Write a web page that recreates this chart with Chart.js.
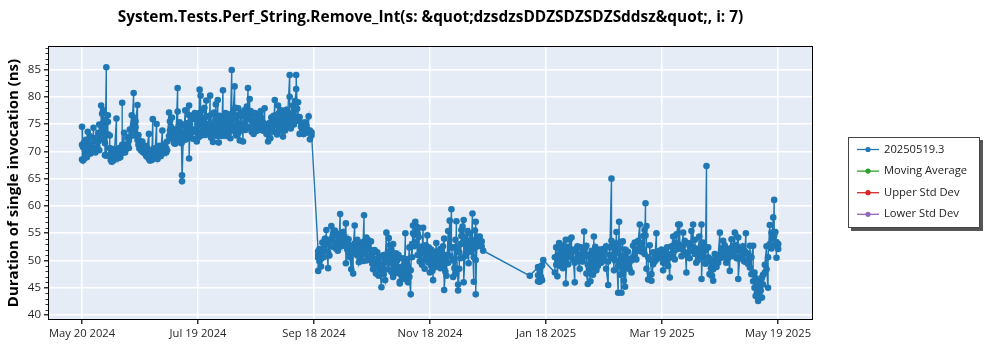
<!DOCTYPE html>
<html>
<head>
<meta charset="utf-8">
<script src="https://cdn.jsdelivr.net/npm/chart.js@4.4.1/dist/chart.umd.min.js"></script>
<style>
  body { margin: 0; background: #fff; }
  canvas { display: block; }
</style>
</head>
<body>
<canvas id="perfChart" width="1000" height="350"></canvas>
<script>
// benchmark name and run id
const chartTitle = 'System.Tests.Perf_String.Remove_Int(s: &quot;dzsdzsDDZSDZSDZSddsz&quot;, i: 7)';
const yTitle = 'Duration of single invocation (ns)';
const legendNames = ['20250519.3', 'Moving Average', 'Upper Std Dev', 'Lower Std Dev'];

// x ticks: days after May 20 2024
const tickDays = [0, 60.67, 121.33, 182, 242.67, 303.33, 364];
const tickLabels = ['May 20 2024', 'Jul 19 2024', 'Sep 18 2024', 'Nov 18 2024', 'Jan 18 2025', 'Mar 19 2025', 'May 19 2025'];
const yTicks = [40, 45, 50, 55, 60, 65, 70, 75, 80, 85];

// before the September drop (days since May 20 2024, ns per run on that day)
const phase1Days = [0,0.5,1,1.5,2,2.5,3,3.5,4,4.5,5,5.5,6,7,8,8.5,9,10,10.5,11,12,12.7,13.5,14.5,15,15.5,16,16.5,17,18,18.5,19,19.5,20,21,22,22.5,23,24,24.5,25,26,27,27.5,28,29,29.5,30,31,31.5,32,33,33.5,34,35,35.5,36,36.5,37,37.5,38,39,39.5,40,40.5,41,42,42.5,43,44,44.5,45.5,46,46.5,47,47.5,48,48.5,49,50,50.5,51,51.5,52,52.3,53,53.5,54,54.5,55,55.5,56,56.5,57,57.5,58,59,
  60,60.5,61,61.5,62,62.5,63,63.5,64,64.5,65,66,66.5,67,67.5,68,68.5,69,69.5,70,70.5,71,71.5,72,72.5,73,73.7,74,74.5,75,75.5,76,76.5,77,77.6,78.3,79,79.8,80.2,80.7,81.2,81.7,82.5,83,83.5,84.2,85,85.5,86.2,86.8,87.7,88.2,88.7,89.2,89.7,90.5,91,92,92.5,93,93.5,94,94.5,95.5,96,96.5,97.3,98,98.5,99,99.5,100.2,100.8,101.3,102,102.5,103,103.6,104.2,105.1,105.6,106.2,106.8,107.5,108.6,109.2,110.3,110.8,111.4,112,112.5,113,113.8,114.5,115.2,116,116.7,117.4,118.5,119.2,120];
const phase1Ns = [[74.5,71.2,68.5],[68.3,70.8],[71.6,68.6],[69.4,70.2],[72.1,69.0],[70.5,68.9],[73.6,69.8],[71.0,69.5],[70.3,72.8],[69.6,71.4],[70.8,69.9],[72.5,70.1],[74.3,70.5],[69.8,71.9,70.6],[70.9,72.6],[71.8,73.4],[70.2,74.9],[72.2,78.4,73.0],[76.9,74.1],[72.6,77.5,75.2],[71.5,75.8,69.3],[85.4,69.2],[76.6,75.4,73.1],[72.9,70.6],[68.4,69.6],[68.1,69.0],[69.8,68.5],[70.4,68.3],[69.0,70.2],[76.0,69.4],[68.7,70.1],[69.5,68.8],[70.6,69.3],[68.9,70.0],[71.2,78.9,69.7],[73.4,70.8],[69.8,71.0],[70.4,70.9],[71.4,72.5],[70.6,72.0],[72.7,74.0],[76.6,73.5],[80.7,74.8,72.9],[76.1,73.8],[74.4,75.5],[78.5,72.1],[73.0,71.2],[72.0,70.5],[71.3,70.1],[70.4,71.8],[69.8,70.6],[69.6,71.0],[70.3,69.2],[69.0,70.7],[73.2,68.6],[69.1,68.3],[68.5,69.6],[70.2,68.4],[75.9,69.0],[68.7,70.5],[69.4,68.8],[75.0,69.9],[70.8,68.6],[69.2,70.0],[71.0,69.5],[70.1,69.1],[73.8,70.4],[69.6,70.9],[70.3,71.2],[69.8,70.6],[71.8,70.2],[77.1,72.8],[75.5,73.8],[72.6,74.5],[76.2,73.0],[72.3,74.1],[71.6,72.8],[73.3,71.4],[72.4,71.5],[81.6,77.3,73.2],[74.6,72.5],[75.3,73.9],[72.4,74.0],[73.1,71.5],[65.6,64.5],[73.4,72.0],[72.6,74.8],[77.5,75.0],[73.6,72.2],[74.3,73.0],[73.4,75.2],[78.4,76.6,68.7],[74.9,72.8],[76.5,74.1],[73.8,75.9],[72.3,74.0],[73.6,77.0],
  [71.8,76.3],[73.2,75.4],[72.6,74.8],[81.3,77.0],[80.2,73.5],[75.6,72.9],[74.1,77.6],[73.2,76.0],[75.2,78.0],[73.0,74.5],[79.3,75.0,73.4],[74.2,76.4],[75.0,73.1],[80.2,74.6],[76.7,72.5],[73.4,74.0],[71.7,75.0],[74.4,77.1],[75.6,73.2],[78.6,74.2],[76.2,72.8],[79.4,75.0],[71.6,74.0],[76.5,73.6],[73.0,75.6],[74.8,72.8],[81.2,75.4],[76.2,73.5],[72.9,75.9],[77.0,74.2],[73.7,76.2],[75.1,72.8],[76.8,74.6],[73.5,75.5],[72.4,74.8],[84.9,75.9],[74.1,77.3],[81.9,76.4],[73.5,78.0],[74.9,72.9],[76.6,74.2],[73.3,77.9],[72.0,74.6],[76.5,73.8],[74.8,77.0],[71.8,74.0],[77.5,75.1],[73.9,76.3],[78.2,74.6],[81.6,75.9],[79.6,76.1],[74.3,77.4],[75.6,73.6],[74.0,76.8],[73.2,75.1],[74.4,77.0],[75.8,73.7],[74.5,76.2],[73.9,75.4],[76.6,74.8],[77.4,75.2],[74.1,76.0],[75.3,73.8],[77.9,74.6],[75.0,73.6],[74.4,73.2],[71.8,73.5],[72.6,75.2],[73.9,72.4],[76.2,74.5],[74.0,75.8],[76.5,73.6],[79.4,75.4],[74.8,76.6],[73.1,75.0],[78.4,76.2],[77.0,74.4],[75.2,73.8],[77.5,74.9],[72.7,75.8],[76.4,74.0],[73.8,76.9],[77.6,75.3],[74.6,76.2],[84.0,80.0,75.6],[76.9,74.2],[78.4,75.7],[77.5,74.9],[76.4,79.2],[81.4,84.0],[77.8,75.6],[79.0,76.3],[76.3,73.2],[74.5,75.3],[73.6,74.8],[75.1,73.2],[74.0,75.3],[73.4,74.7],[76.4,73.8],[73.8,72.2],[72.9,73.5]];

// autumn runs after the drop
const phase2Days = [123.5,124.2,125,125.7,126.4,127.1,127.8,128.7,129.4,130.4,131.2,132.2,133,133.8,134.3,135,135.7,136.5,137.2,138,138.7,139.4,140.1,140.8,141.8,142.6,143.3,144,144.8,145.5,146.2,147,147.5,148.2,148.7,149.5,150.3,151.1,151.8,152.2,153,153.7,154.4,155.1,155.8,156.6,157.2,157.8,158.5,159.2,160,160.4,161.1,161.8,162.7,163.4,164.1,164.8,165.5,166.2,166.9,167.5,168,168.6,169.1,169.8,170.5,171.2,171.9,172.6,173.1,173.7,174.3,174.9,175.5,176.1,176.6,177.2,177.8,178.4,179.2,179.8,180.6,181.3,181.9,182.6,183.2,183.6,184.3,185.3,186,186.7,187.4,188.1,188.8,189.4,190,190.6,191.5,192.3,193.2,194.1,194.8,195.3,195.8,196.7,197.3,197.9,198.4,199,199.6,200.3,201,201.6,202.2,202.8,203.5,204.2,204.9,205.5,205.9,206.5,207.1,208,209,209.8];
const phase2Ns = [[51.7,50.5,48.1,51.0],[49.8,52.1],[50.3,48.9],[51.6,53.3],[52.4,50.6],[54.0,51.8],[55.6,52.9],[48.6,51.5],[53.6,50.9],[56.3,54.0],[52.5,54.8],[55.5,53.2],[52.1,54.6],[53.4,51.8],[54.9,52.6],[58.5,53.5],[52.6,54.2],[55.2,53.0],[52.8,54.4],[56.8,49.5],[52.0,53.6],[51.4,53.9],[52.8,50.6],[48.4,51.6],[47.6,52.2],[56.4,53.1],[51.2,53.5],[53.8,50.9],[52.0,49.7],[50.8,53.1],[51.5,52.8],[49.9,53.4],[58.3,52.3],[53.6,51.1],[54.2,50.0],[52.7,53.8],[50.2,52.1],[53.5,50.8],[49.4,51.6],[48.4,50.3],[49.6,51.9],[47.6,50.2],[51.5,48.9],[47.2,49.8],[50.6,48.0],[45.1,48.6],[49.2,50.8],[51.0,47.5],[46.4,49.6],[55.1,50.4],[51.6,48.4],[54.1,50.1],[49.5,52.8],[52.0,47.9],[53.0,47.0],[50.6,48.5],[49.0,51.3],[47.7,50.0],[51.0,48.8],[46.1,45.8],[48.6,47.4],[50.4,46.8],[49.0,47.2],[46.6,48.3],[55.0,49.4],[50.2,47.6],[46.0,48.9],[52.4,47.0],[43.8,48.2],[53.0,50.6],[56.4,55.0],[52.6,54.7],[57.1,55.3],[56.2,53.4],[55.0,51.0],[56.0,54.3],[49.8,51.9],[52.5,50.0],[49.2,51.4],[56.0,52.0],[48.5,51.2],[52.8,50.1],[54.6,51.3],[49.6,52.4],[50.5,47.8],[52.0,49.0],[48.1,50.9],[46.4,49.5],[51.6,48.7],[53.2,50.2],[49.4,51.5],[51.0,49.5],[52.1,48.6],[50.0,51.8],[49.2,52.6],[54.0,44.6],[48.0,50.4],[51.0,47.2],[55.4,49.6],[57.3,50.8],[59.4,52.4],[50.0,47.0],[52.4,48.6],[53.8,47.6],[57.2,52.2],[45.6,44.5],[48.5,51.5],[53.0,50.4],[54.5,55.6],[53.2,56.2],[57.4,46.0],[50.8,54.3],[53.5,51.2],[55.4,52.6],[49.5,53.6],[52.0,55.0],[53.8,51.6],[58.6,53.0],[46.1,50.6],[55.5,52.4],[57.1,50.1,43.8],[53.2,54.4],[53.8,52.6],[54.4,53.1],[52.6,53.5],[51.8]];

// runs from January 2025 on
const phase3Days = [234.2,238.5,239.3,240,240.6,241.2,247.3,248,248.6,249.5,250.2,250.8,251.5,252.2,253,253.6,254.3,255.1,256,256.7,257.7,258.4,259.1,260.3,261,261.8,262.6,263.2,263.8,264.5,265.2,265.9,266.6,267.2,267.7,268.4,269,269.8,270.8,271.6,272.5,273.3,274.1,275.2,276,276.9,277.6,278.2,278.8,279.5,280.4,280.9,281.5,282.1,282.8,283.4,284,284.7,285.5,286.4,287.4,288.2,289.1,289.9,290.9,291.7,292.6,293.5,294.2,294.7,295.2,296.1,296.9,297.8,298.7,299.5,300.4,301.3,302.2,303.1,303.9,304.6,305.3,306,306.5,307.4,308.3,309.2,310,310.9,311.8,312.6,313.5,314.4,315.2,316.1,317,317.8,318.7,319.6,320.5,321.2,322,322.8,323.4,324,324.7,325.4,326,326.6,327.5,328.2,328.9,329.5,330.1,330.9,331.8,332.7,333.6,334.4,335.3,336.1,336.9,337.9,338.8,339.7,340.5,341.4,342.3,343.2,344,344.9,345.7,346.4,347.2,348.2,349.3,350.1,351,351.7,352.3,353,353.6,354.3,355,355.6,356.2,357.1,358,358.8,359.7,360.6,361.5,362,362.6,363.2,364.1];
const phase3Ns = [[47.2],[48.8,47.3,46.2],[46.1,48.2],[47.0,48.9],[49.1,46.4],[50.1],[47.8,50.6],[52.4,49.2],[50.5,47.1],[53.2,51.0],[49.0,51.8],[52.1,50.0],[48.6,52.8],[51.4,49.7],[53.8,45.8],[50.5,52.5],[49.3,51.6],[53.9,50.8],[54.2,51.2],[50.2,52.0],[46.0,49.6],[51.8,49.9],[52.6,50.4],[48.5,51.0],[50.6,52.4],[51.5,49.8],[55.3,51.6],[50.8,52.3],[52.7,47.6],[45.7,49.2],[51.1,48.0],[46.2,50.3],[48.7,51.8],[50.4,47.4],[54.4,51.2],[49.5,52.5],[50.9,48.2],[51.7,49.0],[50.2,52.0],[49.6,51.3],[52.1,50.6],[50.0,51.6],[52.6,48.5],[45.5,49.8],[52.4,51.0],[65.0,53.6],[50.4,52.6],[48.2,51.2],[53.1,50.0],[55.2,51.4],[44.1,49.0],[57.1,52.3],[47.4,53.4],[44.1,49.6],[53.5,48.2],[46.3,50.8],[52.0,45.2],[48.8,50.4],[51.6,49.2],[50.3,48.4],[47.8,50.0],[52.7,50.6],[53.3,51.0],[50.2,52.0],[51.8,53.6],[56.6,52.8],[53.2,51.6],[54.5,52.0],[55.6,51.2],[60.5,54.6],[56.3,48.5],[46.5,50.6],[50.2,52.8],[47.5,46.3],[49.3,51.5],[51.0,49.8],[55.0,50.2],[50.4,51.6],[51.8,50.6],[50.8,52.0],[49.6,48.2],[51.2,50.0],[51.8,49.4],[50.6,52.4],[49.0,51.2],[46.9,50.5],[52.6,51.0],[54.4,51.6],[53.3,50.2],[52.0,54.8],[56.6,53.0],[56.6,52.5],[52.1,50.8],[55.1,52.8],[51.4,53.6],[47.8,51.0],[51.5,53.2],[52.6,50.4],[55.4,51.8],[56.6,52.4],[51.2,53.8],[49.6,52.2],[51.5,50.0],[54.4,51.6],[52.0,50.8],[56.6,46.6],[53.3,51.2],[50.5,52.6],[51.8,49.4],[67.3,52.4],[52.4,50.6],[49.8,47.5],[48.6,50.2],[47.2,49.0],[46.3,48.4],[49.5,51.2],[50.4,48.8],[49.6,51.0],[55.1,50.4],[52.2,51.0],[53.6,50.6],[50.8,52.8],[52.1,49.6],[51.5,50.4],[48.1,52.2],[53.9,50.8],[51.3,52.6],[55.1,51.6],[50.4,52.8],[54.2,46.6],[50.6,52.0],[52.4,51.0],[50.2,52.6],[51.8,49.8],[55.0,51.5],[49.4,51.2],[48.7,52.7],[47.5,50.6],[52.7,46.2],[45.0,47.8],[43.5,46.8],[46.0,44.2],[42.6,45.8],[44.8,43.2],[46.4,44.5],[43.2,46.9],[47.4,45.6],[47.8,49.2],[52.6,48.4],[45.0,50.6],[56.5,53.0],[55.1,52.2],[57.9,54.0],[61.1,54.5],[52.8,55.2],[50.5,53.4],[53.0,52.1]];

const runColor = '#1f77b4';
const legendColors = ['#1f77b4', '#2ca02c', '#d62728', '#9467bd'];
const fontFamily = "'Open Sans', 'Noto Sans', sans-serif";

const points = [];
function addPhase(days, ns) {
  days.forEach(function(day, i) {
    ns[i].forEach(function(v) { points.push({ x: day, y: v }); });
  });
}
addPhase(phase1Days, phase1Ns);
addPhase(phase2Days, phase2Ns);
addPhase(phase3Days, phase3Ns);

Chart.defaults.font.family = fontFamily;

// plot background, frame, minor ticks, title and boxed legend
const decorations = {
  id: 'decorations',
  beforeDraw(chart) {
    const { ctx, chartArea: a } = chart;
    ctx.save();
    ctx.fillStyle = '#ffffff';
    ctx.fillRect(0, 0, chart.width, chart.height);
    ctx.fillStyle = '#e5ecf6';
    ctx.fillRect(a.left, a.top, a.right - a.left, a.bottom - a.top);
    ctx.restore();
  },
  afterDraw(chart) {
    const { ctx, chartArea: a } = chart;
    const y = chart.scales.y;
    ctx.save();
    ctx.strokeStyle = '#000';
    ctx.lineWidth = 1;
    ctx.strokeRect(a.left + 0.5, a.top + 0.5, a.right - a.left - 1, a.bottom - a.top - 1);

    // minor ticks every 1 ns
    ctx.strokeStyle = '#333';
    ctx.beginPath();
    for (let v = Math.ceil(y.min); v <= y.max; v++) {
      if (v % 5 === 0) continue;
      const py = Math.round(y.getPixelForValue(v)) + 0.5;
      ctx.moveTo(a.left - 2.5, py);
      ctx.lineTo(a.left, py);
    }
    ctx.stroke();

    // title
    ctx.fillStyle = '#000';
    ctx.font = 'bold 15.4px ' + fontFamily;
    ctx.textAlign = 'center';
    ctx.textBaseline = 'middle';
    ctx.fillText(chartTitle, (a.left + a.right) / 2, 18);

    // legend box with shadow
    const bx = 848, by = 137, bw = 132, bh = 91;
    ctx.fillStyle = '#555';
    ctx.fillRect(bx + 3, by + 3, bw, bh);
    ctx.fillStyle = '#fff';
    ctx.fillRect(bx, by, bw, bh);
    ctx.strokeStyle = '#444';
    ctx.strokeRect(bx + 0.5, by + 0.5, bw - 1, bh - 1);
    ctx.font = '11.2px ' + fontFamily;
    ctx.textAlign = 'left';
    legendNames.forEach(function(name, i) {
      const ry = by + 12.5 + i * 21.6;
      ctx.strokeStyle = legendColors[i];
      ctx.lineWidth = 1.3;
      ctx.beginPath();
      ctx.moveTo(857, ry);
      ctx.lineTo(879, ry);
      ctx.stroke();
      ctx.fillStyle = legendColors[i];
      ctx.beginPath();
      ctx.arc(868, ry, 2.6, 0, Math.PI * 2);
      ctx.fill();
      ctx.fillStyle = '#222';
      ctx.fillText(name, 884, ry);
    });
    ctx.restore();
  }
};

new Chart(document.getElementById('perfChart'), {
  type: 'line',
  data: {
    datasets: [{
      label: legendNames[0],
      data: points,
      borderColor: runColor,
      backgroundColor: runColor,
      borderWidth: 1.4,
      pointRadius: 3.3,
      pointBorderWidth: 0,
      tension: 0
    }]
  },
  options: {
    responsive: false,
    animation: false,
    layout: { padding: { top: 46, right: 187, left: 0, bottom: 0 } },
    plugins: {
      legend: { display: false },
      tooltip: { enabled: false }
    },
    scales: {
      x: {
        type: 'linear',
        min: -17.8,
        max: 382.3,
        afterFit: function(scale) { scale.height = 30; },
        afterBuildTicks: function(scale) { scale.ticks = tickDays.map(function(d) { return { value: d }; }); },
        ticks: {
          autoSkip: false,
          maxRotation: 0,
          padding: 3,
          color: '#262626',
          font: { size: 11.2 },
          callback: function(value, index) { return tickLabels[index]; }
        },
        grid: { color: '#ffffff', lineWidth: 1.5, tickColor: '#333', tickLength: 4 },
        border: { display: false }
      },
      y: {
        min: 39.1,
        max: 89.3,
        afterFit: function(scale) { scale.width = 48; },
        afterBuildTicks: function(scale) { scale.ticks = yTicks.map(function(v) { return { value: v }; }); },
        ticks: { padding: 3, color: '#262626', font: { size: 11.5 } },
        grid: { color: '#ffffff', lineWidth: 1.5, tickColor: '#333', tickLength: 4 },
        border: { display: false },
        title: {
          display: true,
          text: yTitle,
          color: '#000',
          font: { size: 15, weight: 'bold' },
          padding: { top: 5, bottom: 4 }
        }
      }
    }
  },
  plugins: [decorations]
});
</script>
</body>
</html>
